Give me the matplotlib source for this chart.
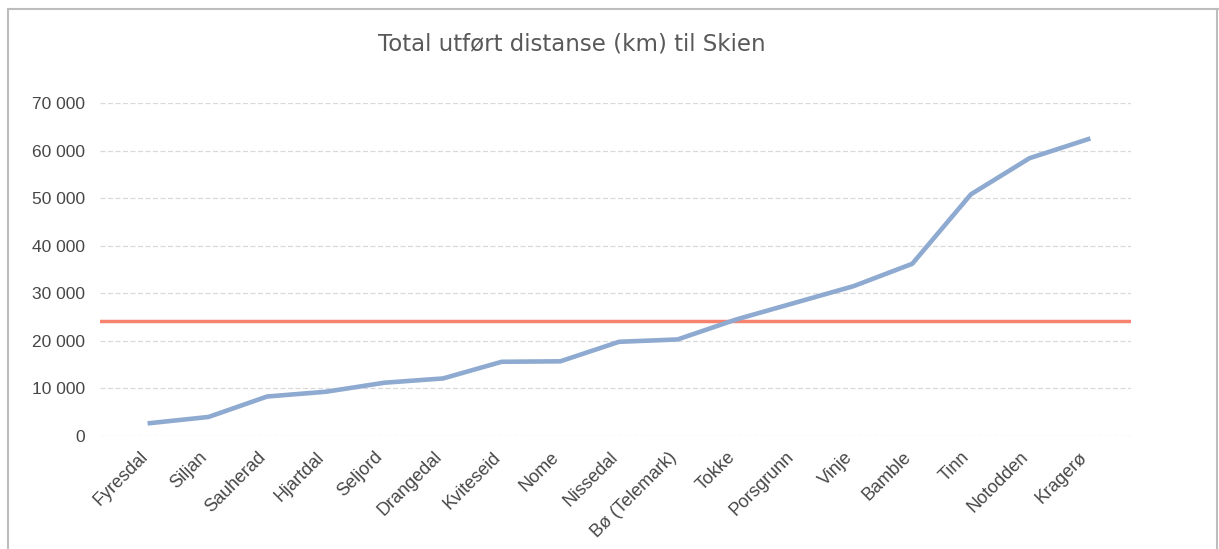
import matplotlib
matplotlib.use("Agg")
import matplotlib.pyplot as plt
import matplotlib.transforms as mtransforms
from matplotlib.lines import Line2D
from matplotlib.ticker import FuncFormatter

kommuner = ["Fyresdal", "Siljan", "Sauherad", "Hjartdal", "Seljord", "Drangedal",
            "Kviteseid", "Nome", "Nissedal", "Bø (Telemark)", "Tokke", "Porsgrunn",
            "Vinje", "Bamble", "Tinn", "Notodden", "Kragerø"]
distanse = [2700, 4000, 8300, 9300, 11200, 12100, 15600, 15700, 19800, 20300,
            24500, 28000, 31500, 36200, 50800, 58400, 62400]
snitt = 24200
yticks = [0, 10000, 20000, 30000, 40000, 50000, 60000, 70000]

W, H = 1219, 549
fig = plt.figure(figsize=(W / 100, H / 100), dpi=100)
ax = fig.add_axes([100 / W, (H - 436) / H, 1031 / W, 333 / H])

x = list(range(len(kommuner)))
ax.axhline(snitt, color="#f7836f", lw=2.5, zorder=2)
ax.plot(x, distanse, color="#8eaad0", lw=3.3, zorder=3, solid_joinstyle="round")

ax.set_xlim(-0.85, 16.73)
ax.set_ylim(0, 70000)
ax.set_yticks(yticks)
ax.yaxis.set_major_formatter(FuncFormatter(lambda v, p: f"{int(v):,}".replace(",", " ")))
ax.set_xticks(x)
ax.set_xticklabels(kommuner, rotation=45, ha="right", va="top", rotation_mode="anchor")
ax.tick_params(length=0, labelsize=12.5, labelcolor="#474747")
ax.tick_params(axis="y", pad=11)
ax.tick_params(axis="x", pad=9, labelsize=13)
skift = mtransforms.ScaledTranslation(-10 / 100, 0, fig.dpi_scale_trans)
for lab in ax.get_xticklabels():
    lab.set_family("Liberation Sans")
    lab.set_transform(lab.get_transform() + skift)
for lab in ax.get_yticklabels():
    lab.set_family("Liberation Sans")

ax.grid(axis="y", color="#d9d9d9", ls=(0, (4, 2)), lw=0.9)
ax.set_axisbelow(True)
for s in ax.spines.values():
    s.set_visible(False)

fig.text(572 / W, 1 - 44 / H, "Total utført distanse (km) til Skien", ha="center", va="center",
         fontsize=16.5, color="#595959", family="DejaVu Sans")

# kantlinjer rundt diagrammet
fig.add_artist(Line2D([8 / W, 1], [1 - 9 / H, 1 - 9 / H], color="#bdbdbd", lw=1.5))
fig.add_artist(Line2D([8 / W, 8 / W], [0, 1 - 9 / H], color="#bdbdbd", lw=1.5))
fig.add_artist(Line2D([1217 / W, 1217 / W], [0, 1 - 9 / H], color="#bdbdbd", lw=1.5))

fig.savefig("out.png", dpi=100)
